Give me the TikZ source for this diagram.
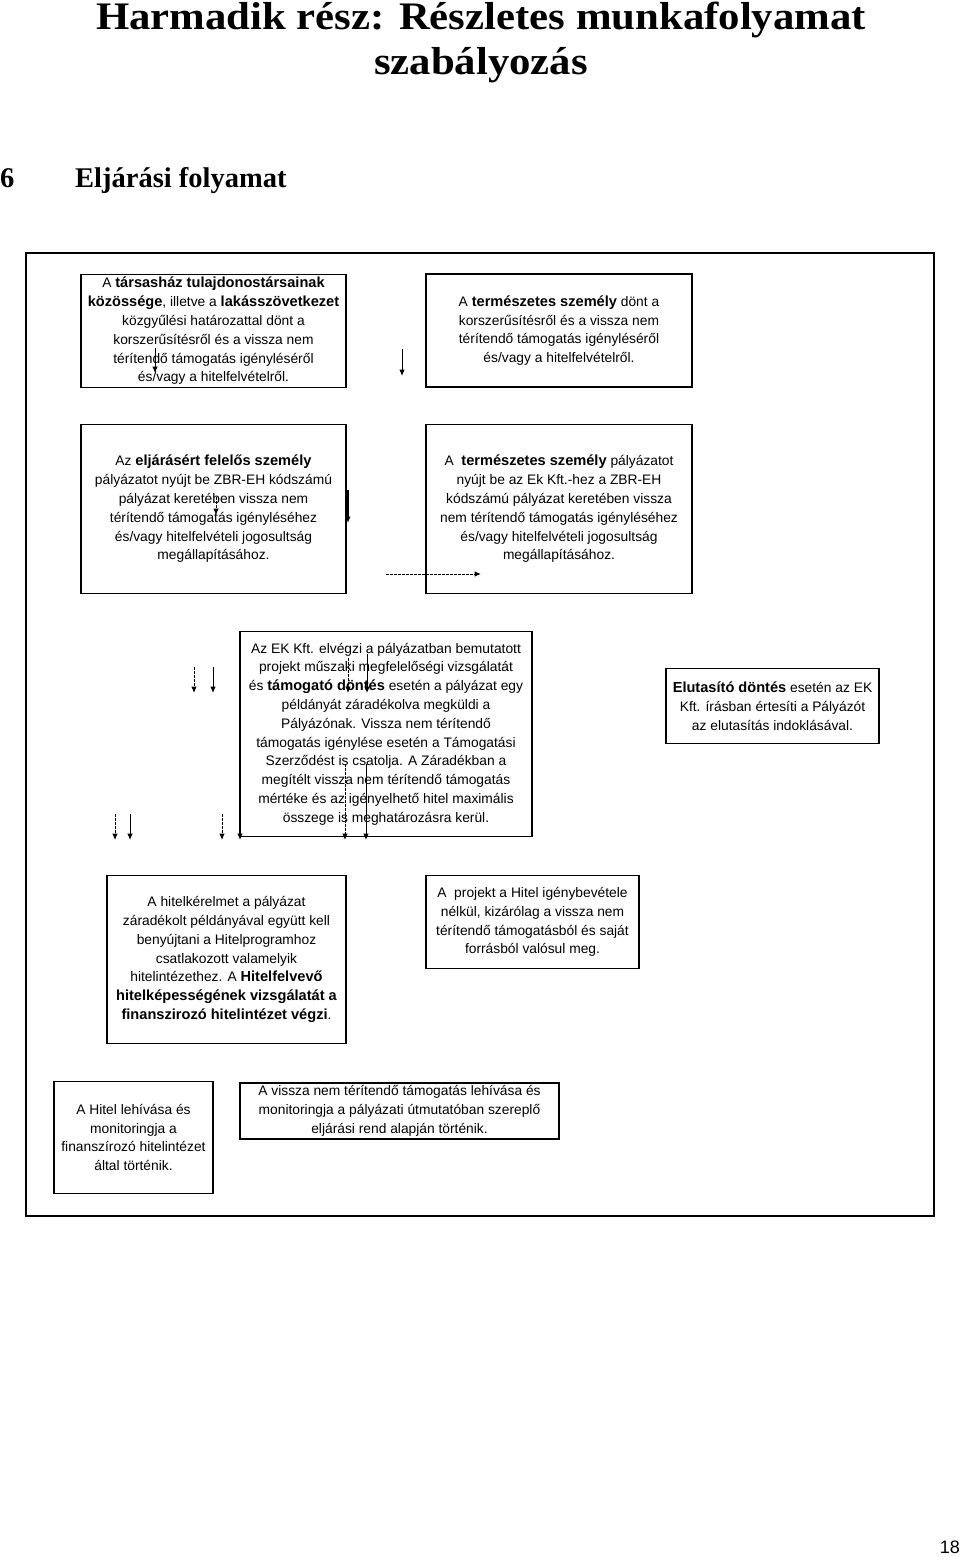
\documentclass[tikz,border=0pt]{standalone}
\usepackage{fontspec}
\setmainfont{Liberation Serif}
\newfontfamily\arial{Liberation Sans}
\usetikzlibrary{arrows.meta}
\newcommand\bx[1]{{\fontsize{14.6}{18.8}\selectfont\bfseries #1}}
\tikzset{
  box/.style={draw, line width=1.3pt, rectangle, inner sep=0pt, align=center,
    font=\arial\fontsize{13.8}{18.8}\selectfont},
  solidarrow/.style={-{Latex[length=6.5pt,width=5.5pt]}, line width=1pt},
  dasharrow/.style={-{Latex[length=6.5pt,width=5.5pt]}, line width=1pt, dash pattern=on 2.5pt off 1.5pt},
  titletext/.style={font=\fontsize{39}{40}\selectfont\bfseries, inner sep=0pt, anchor=base},
  headtext/.style={font=\fontsize{28.5}{30}\selectfont\bfseries, inner sep=0pt, anchor=base west}
}
\begin{document}
\begin{tikzpicture}[x=1pt,y=-1pt]
\useasboundingbox (0,0) rectangle (960,1557);
\fill[white] (0,0) rectangle (960,1557);
% titles
\node[titletext] (t1) at (481,30) {\scalebox{1.097}[1]{Harmadik rész: Részletes munkafolyamat}};
\node[titletext] (t2) at (481,75) {\scalebox{1.097}[1]{szabályozás}};
\node[headtext] (h6) at (0,188) {6};
\node[headtext] (h6t) at (75,188) {Eljárási folyamat};
\node[font=\arial\fontsize{18}{20}\selectfont, inner sep=0pt, anchor=base east] (pg) at (960,1553) {18};
% frame
\draw[line width=1.3pt] (26,253) rectangle (934,1216);
% boxes
\node[box, minimum width=265pt, minimum height=113pt] (bA) at (213.5,331) {A \bx{társasház tulajdonostársainak}\\\bx{közössége}, illetve a \bx{lakásszövetkezet}\\közgyűlési határozattal dönt a\\korszerűsítésről és a vissza nem\\térítendő támogatás igényléséről\\és/vagy a hitelfelvételről.};
\node[box, minimum width=266pt, minimum height=113pt] (bB) at (559,330.5) {A \bx{természetes személy} dönt a\\korszerűsítésről és a vissza nem\\térítendő támogatás igényléséről\\és/vagy a hitelfelvételről.};
\node[box, minimum width=265pt, minimum height=169pt] (bC) at (213.5,509) {Az \bx{eljárásért felelős személy}\\pályázatot nyújt be ZBR-EH kódszámú\\pályázat keretében vissza nem\\térítendő támogatás igényléséhez\\és/vagy hitelfelvételi jogosultság\\megállapításához.};
\node[box, minimum width=266pt, minimum height=169pt] (bD) at (559,509) {A\ \ \bx{természetes személy} pályázatot\\nyújt be az Ek Kft.-hez a ZBR-EH\\kódszámú pályázat keretében vissza\\nem térítendő támogatás igényléséhez\\és/vagy hitelfelvételi jogosultság\\megállapításához.};
\node[box, minimum width=292pt, minimum height=205pt] (bE) at (386,734) {Az EK Kft. elvégzi a pályázatban bemutatott\\projekt műszaki megfelelőségi vizsgálatát\\és \bx{támogató döntés} esetén a pályázat egy\\példányát záradékolva megküldi a\\Pályázónak. Vissza nem térítendő\\támogatás igénylése esetén a Támogatási\\Szerződést is csatolja. A Záradékban a\\megítélt vissza nem térítendő támogatás\\mértéke és az igényelhető hitel maximális\\összege is meghatározásra kerül.};
\node[box, minimum width=213pt, minimum height=75pt] (bF) at (772.5,706) {\bx{Elutasító döntés} esetén az EK\\Kft. írásban értesíti a Pályázót\\az elutasítás indoklásával.};
\node[box, minimum width=239pt, minimum height=168pt] (bG) at (226.5,959.5) {A hitelkérelmet a pályázat\\záradékolt példányával együtt kell\\benyújtani a Hitelprogramhoz\\csatlakozott valamelyik\\hitelintézethez. A \bx{Hitelfelvevő}\\\bx{hitelképességének vizsgálatát a}\\\bx{finanszirozó hitelintézet végzi}.};
\node[box, minimum width=213pt, minimum height=93pt] (bH) at (532.5,922) {A\ \ projekt a Hitel igénybevétele\\nélkül, kizárólag a vissza nem\\térítendő támogatásból és saját\\forrásból valósul meg.};
\node[box, minimum width=159pt, minimum height=112pt] (bI) at (133.5,1137.5) {A Hitel lehívása és\\monitoringja a\\finanszírozó hitelintézet\\által történik.};
\node[box, minimum width=319pt, minimum height=56pt] (bJ) at (399.5,1111) {A vissza nem térítendő támogatás lehívása és\\monitoringja a pályázati útmutatóban szereplő\\eljárási rend alapján történik.};
% free arrow coordinates
\coordinate (a1s) at (155,348); \coordinate (a1e) at (155,373);
\coordinate (a2s) at (402,349); \coordinate (a2e) at (402,376);
\coordinate (a3s) at (216,497); \coordinate (a3e) at (216,515);
\coordinate (a4s) at (348,490); \coordinate (a4e) at (348,523);
\coordinate (a5s) at (386,574); \coordinate (a5e) at (481,574);
\coordinate (a6s) at (194,667); \coordinate (a6e) at (194,693);
\coordinate (a7s) at (213,667); \coordinate (a7e) at (213,693);
\coordinate (a8s) at (348,658); \coordinate (a8e) at (348,693);
\coordinate (a9s) at (367,654); \coordinate (a9e) at (367,693);
\coordinate (b1s) at (115,814); \coordinate (b1e) at (115,840);
\coordinate (b2s) at (130,814); \coordinate (b2e) at (130,840);
\coordinate (b3s) at (222,814); \coordinate (b3e) at (222,840);
\coordinate (b4s) at (240,820); \coordinate (b4e) at (240,840);
\coordinate (b5s) at (345,764); \coordinate (b5e) at (345,840);
\coordinate (b6s) at (366,764); \coordinate (b6e) at (366,840);
\draw[solidarrow] (a1s) -- (a1e);
\draw[solidarrow] (a2s) -- (a2e);
\draw[dasharrow] (a3s) -- (a3e);
\draw[solidarrow, line width=1.8pt] (a4s) -- (a4e);
\draw[dasharrow] (a5s) -- (a5e);
\draw[dasharrow] (a6s) -- (a6e);
\draw[solidarrow] (a7s) -- (a7e);
\draw[dasharrow] (a8s) -- (a8e);
\draw[solidarrow] (a9s) -- (a9e);
\draw[dasharrow] (b1s) -- (b1e);
\draw[solidarrow] (b2s) -- (b2e);
\draw[dasharrow] (b3s) -- (b3e);
\draw[solidarrow] (b4s) -- (b4e);
\draw[dasharrow] (b5s) -- (b5e);
\draw[solidarrow] (b6s) -- (b6e);
\end{tikzpicture}
\end{document}
